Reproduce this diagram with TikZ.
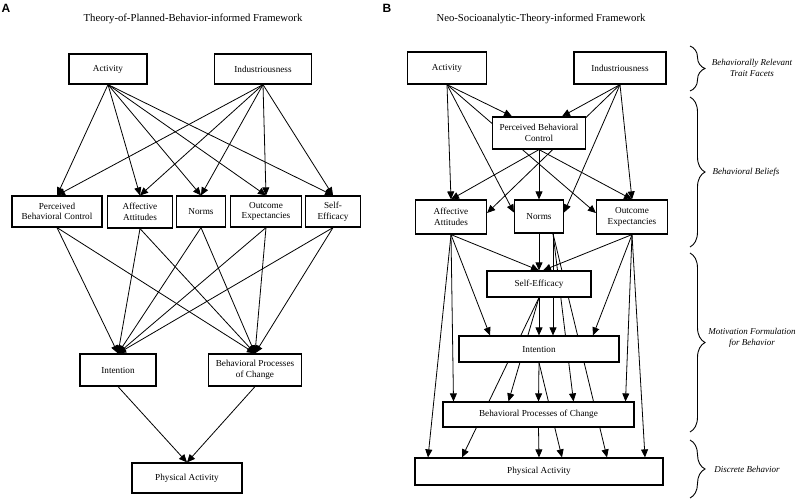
\documentclass[tikz,border=0pt]{standalone}
\usepackage{fontspec}
\setmainfont{Liberation Serif}
\setsansfont{Liberation Sans}
\usetikzlibrary{arrows.meta,backgrounds,decorations.pathreplacing}

\tikzset{
  box/.style={draw, line width=1.2pt, fill=white, align=center, inner sep=1pt,
    font=\fontsize{9.2}{10.5}\selectfont},
  arr/.style={line width=0.8pt, -{Triangle[length=8pt,width=7pt]}},
  brc/.style={decorate, decoration={brace, amplitude=15pt}, line width=0.9pt},
  side/.style={font=\fontsize{9}{11}\selectfont\itshape, align=center},
  title/.style={font=\fontsize{10.7}{12}\selectfont},
  panel/.style={font=\sffamily\bfseries\fontsize{12}{13}\selectfont}
}

\begin{document}
\begin{tikzpicture}[x=1pt,y=-1pt]
  \useasboundingbox (0,0) rectangle (800,501);

  % Panel letters and titles
  \node[panel] (lblA) at (6,8) {A};
  \node[panel] (lblB) at (387,8) {B};
  \node[title] (titA) at (193,19) {Theory-of-Planned-Behavior-informed Framework};
  \node[title] (titB) at (541,19) {Neo-Socioanalytic-Theory-informed Framework};

  % Panel A boxes
  \node[box, minimum width=78, minimum height=30] (actA) at (108,69) {Activity};
  \node[box, minimum width=97, minimum height=30] (indA) at (263,69) {Industriousness};
  \node[box, minimum width=90, minimum height=31] (pbcA) at (57,211.5) {Perceived\\Behavioral Control};
  \node[box, minimum width=65, minimum height=32] (affA) at (140,212) {Affective\\Attitudes};
  \node[box, minimum width=49, minimum height=31] (normA) at (201,211.5) {Norms};
  \node[box, minimum width=71, minimum height=31] (outA) at (266,211.5) {Outcome\\Expectancies};
  \node[box, minimum width=55, minimum height=31] (seA) at (333,211.5) {Self-\\Efficacy};
  \node[box, minimum width=76, minimum height=32] (intA) at (118,370) {Intention};
  \node[box, minimum width=93, minimum height=32] (bpcA) at (255,370) {Behavioral Processes\\of Change};
  \node[box, minimum width=110, minimum height=30] (paA) at (187,478) {Physical Activity};

  % Panel B boxes
  \node[box, minimum width=79, minimum height=32] (actB) at (447,68) {Activity};
  \node[box, minimum width=92, minimum height=32] (indB) at (620,68) {Industriousness};
  \node[box, minimum width=93, minimum height=32] (pbcB) at (539,133) {Perceived Behavioral\\Control};
  \node[box, minimum width=71, minimum height=34] (affB) at (451,217) {Affective\\Attitudes};
  \node[box, minimum width=49, minimum height=33] (normB) at (539,216.5) {Norms};
  \node[box, minimum width=71, minimum height=34] (outB) at (632,217) {Outcome\\Expectancies};
  \node[box, minimum width=104, minimum height=26] (seB) at (539,284) {Self-Efficacy};
  \node[box, minimum width=160, minimum height=26] (intB) at (539,349) {Intention};
  \node[box, minimum width=191, minimum height=25] (bpcB) at (538.5,414.5) {Behavioral Processes of Change};
  \node[box, minimum width=248, minimum height=27] (paB) at (539,471.5) {Physical Activity};

  % Braces and level labels
  \draw[brc] (690,46) -- (690,91);
  \draw[brc] (690,97) -- (690,247);
  \draw[brc] (690,253) -- (690,432);
  \draw[brc] (690,440) -- (690,498);
  \node[side] (lvTrait) at (752,68) {Behaviorally Relevant\\Trait Facets};
  \node[side] (lvBelief) at (746,172) {Behavioral Beliefs};
  \node[side] (lvMotiv) at (752,338) {Motivation Formulation\\for Behavior};
  \node[side] (lvDiscr) at (747,469) {Discrete Behavior};

  \begin{pgfonlayer}{background}
    % Panel A arrows
    \foreach \s in {actA,indA}
      \foreach \t in {pbcA,affA,normA,outA,seA}
        \draw[arr] (\s.south) -- (\t.north);
    \foreach \s in {pbcA,affA,normA,outA,seA}
      \foreach \t in {intA,bpcA}
        \draw[arr] (\s.south) -- (\t.north);
    \draw[arr] (intA.south) -- (paA.north);
    \draw[arr] (bpcA.south) -- (paA.north);

    % Panel B: traits to beliefs
    \draw[arr] (actB.south) -- (affB.north);
    \draw[arr] (actB.south) -- ([xshift=-27]pbcB.north);
    \draw[arr] (actB.south) -- ([yshift=4]normB.west);
    \draw[arr] (actB.south) -- ([yshift=4]outB.west);
    \draw[arr] (indB.south) -- ([xshift=23]pbcB.north);
    \draw[arr] (indB.south) -- ([yshift=4]affB.east);
    \draw[arr] (indB.south) -- ([yshift=4]normB.east);
    \draw[arr] (indB.south) -- (outB.north);
    \foreach \t in {affB,normB,outB}
      \draw[arr] (pbcB.south) -- (\t.north);

    % Panel B: beliefs to self-efficacy
    \draw[arr] (affB.south) -- (seB.north);
    \draw[arr] (normB.south) -- (seB.north);
    \draw[arr] (outB.south) -- ([xshift=4]seB.north);

    % Panel B: to intention
    \draw[arr] (affB.south) -- ([xshift=-49]intB.north);
    \draw[arr] (seB.south) -- (intB.north);
    \draw[arr] ([xshift=14]normB.south) -- ([xshift=14]intB.north);
    \draw[arr] (outB.south) -- ([xshift=54]intB.north);

    % Panel B: to processes of change
    \draw[arr] (affB.south) -- ([xshift=-85]bpcB.north);
    \draw[arr] (seB.south) -- ([xshift=-30]bpcB.north);
    \draw[arr] (intB.south) -- (bpcB.north);
    \draw[arr] ([xshift=14]normB.south) -- ([xshift=35]bpcB.north);
    \draw[arr] (outB.south) -- ([xshift=87]bpcB.north);

    % Panel B: to physical activity
    \draw[arr] (affB.south) -- ([xshift=-111]paB.north);
    \draw[arr] (seB.south) -- ([xshift=-77]paB.north);
    \draw[arr] (bpcB.south) -- (paB.north);
    \draw[arr] (intB.south) -- ([xshift=23]paB.north);
    \draw[arr] ([xshift=14]normB.south) -- ([xshift=68]paB.north);
    \draw[arr] (outB.south) -- ([xshift=106]paB.north);
  \end{pgfonlayer}
\end{tikzpicture}
\end{document}
